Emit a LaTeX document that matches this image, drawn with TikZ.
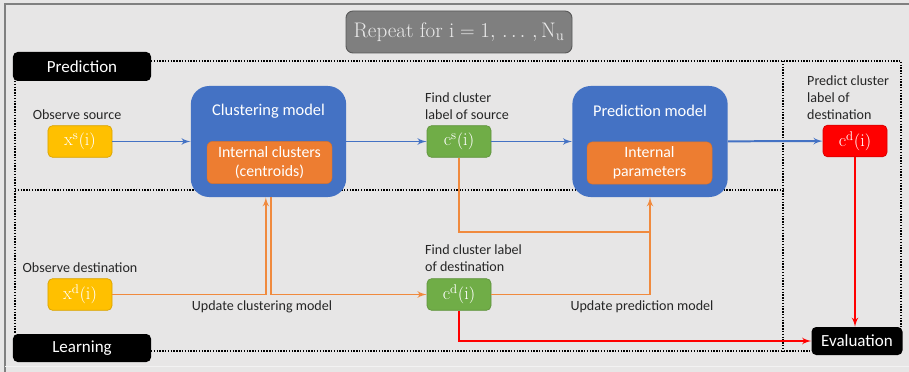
\documentclass[tikz,border=0pt]{standalone}
\usepackage{fontspec}
\setsansfont{Carlito}
\usepackage{tikz}
\usetikzlibrary{arrows,calc}

\definecolor{slidebg}{HTML}{E7E6E6}
\definecolor{modelblue}{HTML}{4472C4}
\definecolor{partorange}{HTML}{ED7D31}
\definecolor{linkorange}{HTML}{F08A3E}
\definecolor{obsyellow}{HTML}{FFC000}
\definecolor{labgreen}{HTML}{70AD47}
\definecolor{predred}{HTML}{FF0000}
\definecolor{repgray}{HTML}{7F7F7F}

\begin{document}
\begin{tikzpicture}[x=0.03cm,y=-0.03cm,>=latex',
  value node/.style={rectangle,rounded corners=4pt,minimum width=1.92cm,minimum height=0.95cm,
    text=white,font=\fontsize{15.5}{17}\selectfont,line width=0.6pt},
  model node/.style={rectangle,rounded corners=0.55cm,fill=modelblue,minimum width=4.66cm,minimum height=3.33cm},
  inner node/.style={rectangle,rounded corners=5pt,fill=partorange,draw=partorange!90!black,minimum width=3.75cm,
    minimum height=1.27cm,text=white,align=center,font=\sffamily\fontsize{13.5}{16}\selectfont},
  title node/.style={text=white,font=\sffamily\fontsize{14}{17}\selectfont},
  tag node/.style={rectangle,rounded corners=4pt,fill=black,text=white,font=\sffamily\fontsize{14.5}{17}\selectfont},
  step text/.style={font=\sffamily\fontsize{12}{14.5}\selectfont,text=black!85,inner sep=0pt},
  frame line/.style={black,line width=1.4pt,dash pattern=on 1.2pt off 1.2pt},
  blue link/.style={->,modelblue,line width=1.7pt},
  upd link/.style={linkorange,line width=1.7pt},
  red link/.style={->,predred,line width=1.7pt}]

  \useasboundingbox (0,0) rectangle (909,372);
  % slide background
  \fill[slidebg] (0,0) rectangle (909,372);
  \draw[gray,line width=1pt] (909,4) -- (5,4) -- (5,372);
  \draw[white!90!gray,line width=0.8pt] (5,366) -- (909,366);

  % dotted frames
  \draw[frame line] (151,61) -- (901,61) -- (901,327);
  \draw[frame line] (15,81) -- (15,334);
  \draw[frame line] (15,190) -- (783,190);
  \draw[frame line] (783,61) -- (783,351);
  \draw[frame line] (151,351) -- (812,351);

  \node[rectangle,rounded corners=6pt,fill=repgray,draw=repgray!70!black,line width=0.8pt,
    minimum width=6.78cm,minimum height=1.26cm,text=white!92!black,font=\fontsize{18}{20}\selectfont]
    (repeat) at (459,32) {Repeat for $\mathrm{i=1,\,\dots\,,N_u}$};
  \node[tag node,minimum width=4.14cm,minimum height=0.87cm] (predtag) at (82,66.5) {Prediction};
  \node[tag node,minimum width=4.14cm,minimum height=0.84cm] (learntag) at (82,348) {Learning};
  \node[tag node,minimum width=2.73cm,minimum height=0.84cm] (eval) at (857,341) {Evaluation};

  \node[model node] (clust) at (268.5,141.5) {};
  \node[title node] (clusttitle) at (268.5,111) {Clustering model};
  \node[inner node] (centroids) at (269.5,162.5) {Internal clusters\\(centroids)};
  \node[model node] (pred) at (650,141.5) {};
  \node[title node] (predtitle) at (650,111) {Prediction model};
  \node[inner node] (params) at (649.5,163) {Internal\\parameters};

  \node[value node,fill=obsyellow,draw=obsyellow!85!black] (xs) at (80,141.5) {$\mathrm{x^s(i)}$};
  \node[value node,fill=labgreen,draw=labgreen!85!black] (cs) at (459,141.5) {$\mathrm{c^s(i)}$};
  \node[value node,fill=predred,draw=predred!85!black] (cdp) at (855,141) {$\mathrm{c^d(i)}$};
  \node[value node,fill=obsyellow,draw=obsyellow!85!black] (xd) at (80,294.5) {$\mathrm{x^d(i)}$};
  \node[value node,fill=labgreen,draw=labgreen!85!black] (cdl) at (459,294.5) {$\mathrm{c^d(i)}$};

  \node[step text] (obssrc) at (77,115) {Observe source};
  \node[step text,anchor=west,align=left] (findsrc) at (425,106.5) {Find cluster\\label of source};
  \node[step text,anchor=west,align=left] (predict) at (807,98) {Predict cluster\\label of\\destination};
  \node[step text] (obsdst) at (80,268) {Observe destination};
  \node[step text,anchor=west,align=left] (finddst) at (425,258.5) {Find cluster label\\of destination};
  \node[step text] (updclust) at (262,307) {Update clustering model};
  \node[step text] (updpred) at (642,307) {Update prediction model};

  \coordinate (join) at ([yshift=-1.05cm]pred.south);

  \path[blue link]
    (xs) edge (clust)
    (clust) edge (cs)
    (cs) edge (pred)
    (pred) edge (cdp);

  \draw[upd link,->] (xd) -| ([xshift=-0.08cm]clust.south);
  \draw[upd link,->] ([xshift=0.08cm]clust.south) |- (cdl);
  \draw[upd link] (cs) |- (join);
  \draw[upd link,->] (cdl) -| (join) -- (pred);

  \draw[red link] (cdp) -- (cdp |- eval.north);
  \draw[red link] (cdl) |- (eval);
\end{tikzpicture}
\end{document}
